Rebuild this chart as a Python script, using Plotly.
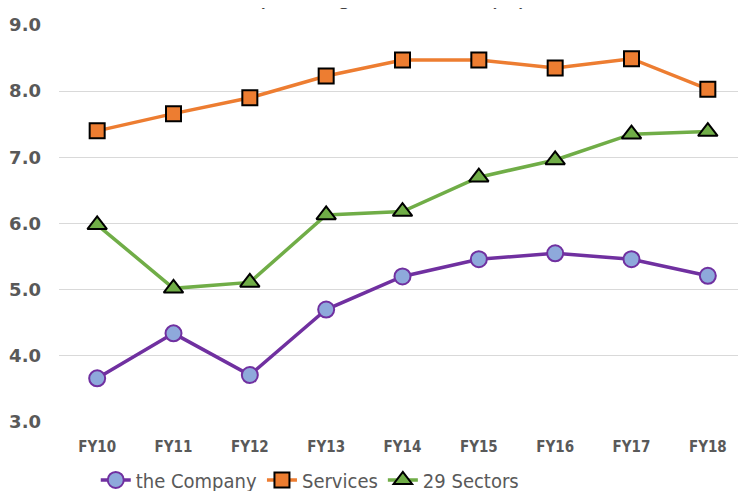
import plotly.graph_objects as go

categories = ["FY10", "FY11", "FY12", "FY13", "FY14", "FY15", "FY16", "FY17", "FY18"]
company = [3.66, 4.34, 3.71, 4.70, 5.20, 5.46, 5.55, 5.46, 5.21]
services = [7.40, 7.66, 7.90, 8.23, 8.47, 8.47, 8.35, 8.49, 8.03]
sectors29 = [5.98, 5.02, 5.11, 6.13, 6.18, 6.70, 6.96, 7.35, 7.39]
y_ticks = [3, 4, 5, 6, 7, 8, 9]
y_tick_labels = ["3.0", "4.0", "5.0", "6.0", "7.0", "8.0", "9.0"]
title_text = "Operating Profit Ratio (%)"

NARROW = "DejaVu Sans Condensed, DejaVu Sans, sans-serif"

fig = go.Figure()
fig.add_trace(go.Scatter(
    x=categories, y=company, name="the Company", mode="lines+markers",
    line=dict(color="#7030A0", width=3.5),
    marker=dict(symbol="circle", size=16, color="#8EA9DB", line=dict(color="#7030A0", width=2)),
))
fig.add_trace(go.Scatter(
    x=categories, y=services, name="Services", mode="lines+markers",
    line=dict(color="#ED7D31", width=3.5),
    marker=dict(symbol="square", size=15, color="#ED7D31", line=dict(color="#000000", width=2)),
))
fig.add_trace(go.Scatter(
    x=categories, y=sectors29, name="29 Sectors", mode="lines+markers",
    line=dict(color="#70AD47", width=3.5),
    marker=dict(symbol="triangle-up", size=17, color="#70AD47", line=dict(color="#000000", width=2)),
))

# page body has an 8px default margin; the figure is sized/offset to compensate
fig.update_layout(
    width=738, height=483,
    margin=dict(l=51, r=0, t=17, b=69, autoexpand=False),
    paper_bgcolor="white", plot_bgcolor="white",
    showlegend=True,
    legend=dict(orientation="h", x=0.365, xanchor="center", y=-0.146, yanchor="middle",
                font=dict(family=NARROW, size=20, color="#595959"),
                itemwidth=30, tracegroupgap=0),
    annotations=[dict(text=title_text, xref="paper", yref="paper", x=0.473, y=1.035,
                      xanchor="center", yanchor="bottom", showarrow=False,
                      font=dict(family="Liberation Sans, Arial, sans-serif", size=25, color="#404040"))],
)
fig.update_xaxes(
    type="category", range=[-0.5, 8.5], showgrid=False, zeroline=False, showline=False,
    ticks="", ticklabelstandoff=14, automargin=False,
    tickfont=dict(family=NARROW, size=15, color="#595959", weight="bold"),
)
fig.update_yaxes(
    range=[3, 9], tickvals=y_ticks, ticktext=y_tick_labels,
    showgrid=True, gridcolor="#D9D9D9", gridwidth=1, zeroline=False, showline=False,
    ticks="", ticklabelstandoff=17, automargin=False,
    tickfont=dict(family="DejaVu Sans, Verdana, sans-serif", size=18, color="#595959", weight="bold"),
)
fig.write_html("out.html")
